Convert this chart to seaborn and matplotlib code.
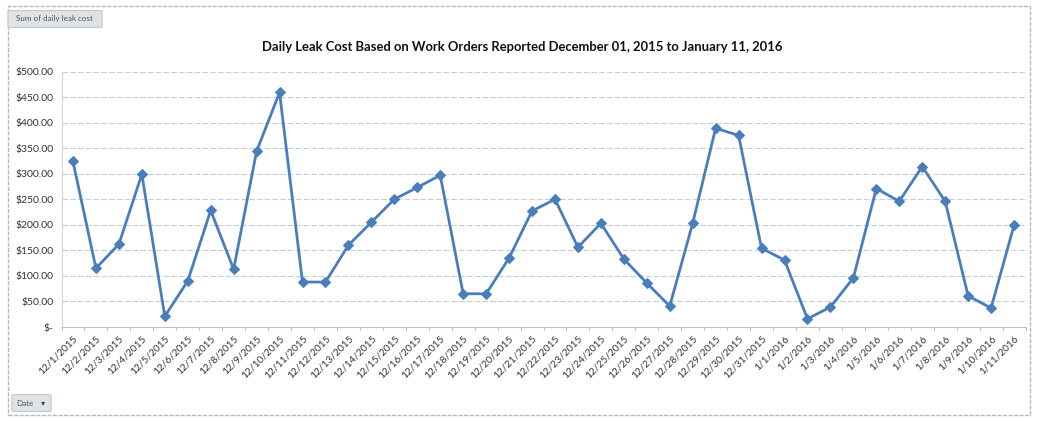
import numpy as np
import pandas as pd
import matplotlib
matplotlib.use("Agg")
import matplotlib.pyplot as plt
from matplotlib.patches import FancyBboxPatch, Rectangle
from matplotlib.ticker import FuncFormatter
import seaborn as sns

dates = [
    "12/1/2015", "12/2/2015", "12/3/2015", "12/4/2015", "12/5/2015", "12/6/2015",
    "12/7/2015", "12/8/2015", "12/9/2015", "12/10/2015", "12/11/2015", "12/12/2015",
    "12/13/2015", "12/14/2015", "12/15/2015", "12/16/2015", "12/17/2015", "12/18/2015",
    "12/19/2015", "12/20/2015", "12/21/2015", "12/22/2015", "12/23/2015", "12/24/2015",
    "12/25/2015", "12/26/2015", "12/27/2015", "12/28/2015", "12/29/2015", "12/30/2015",
    "12/31/2015", "1/1/2016", "1/2/2016", "1/3/2016", "1/4/2016", "1/5/2016",
    "1/6/2016", "1/7/2016", "1/8/2016", "1/9/2016", "1/10/2016", "1/11/2016",
]
daily_leak_cost = [
    324, 115, 162, 299, 21, 90,
    228, 113, 344, 459, 88, 88,
    160, 205, 250, 273, 297, 65,
    65, 135, 227, 250, 156, 203,
    133, 86, 41, 203, 389, 375,
    154, 131, 16, 39, 96, 271,
    246, 314, 246, 61, 37, 199,
]
y_ticks = [0, 50, 100, 150, 200, 250, 300, 350, 400, 450, 500]

df = pd.DataFrame({"pos": np.arange(len(dates)), "Date": dates, "cost": daily_leak_cost})

sns.set_theme(style="white")
plt.rcParams["font.family"] = ["Lato", "DejaVu Sans"]

W, H = 1037, 421
fig = plt.figure(figsize=(W / 100, H / 100), dpi=100)
fig.patch.set_facecolor("white")

# outer chart frame
fig.patches.append(Rectangle((8 / W, 6 / H), 1022 / W, 409 / H, transform=fig.transFigure,
                             fill=False, edgecolor="#b8b8b8", linewidth=1.0, linestyle=(0, (3, 1))))

ax = fig.add_axes([61.5 / W, 1 - 327 / H, (1025.5 - 61.5) / W, (327 - 71.5) / H])
line_color = "#4a7ebb"
sns.lineplot(data=df, x="pos", y="cost", ax=ax, color=line_color, linewidth=2.0,
             marker="D", markersize=5.5, markeredgecolor=line_color, markerfacecolor=line_color)

ax.set_xlim(-0.5, len(dates) - 0.5)
ax.set_ylim(0, 500)
ax.set_yticks(y_ticks)
ax.yaxis.set_major_formatter(FuncFormatter(lambda v, p: "$-" if v == 0 else f"${v:,.2f}"))
ax.tick_params(axis="y", labelsize=7.5, colors="#333333", length=0, pad=6)
ax.set_xticks(np.arange(len(dates)))
ax.set_xticklabels(dates, rotation=45, ha="right", rotation_mode="anchor", fontsize=7.3, color="#333333")
ax.tick_params(axis="x", length=0, pad=5)

# category boundary tick marks
for b in np.arange(-0.5, len(dates), 1.0):
    ax.plot([b, b], [0, -5], color="#c0c0c0", linewidth=0.8, clip_on=False)

ax.grid(axis="y", color="#c6ceda", linestyle=(0, (5, 2)), linewidth=0.8)
ax.set_axisbelow(True)
for s in ["top", "right"]:
    ax.spines[s].set_visible(False)
ax.spines["left"].set_color("#d0d0d0")
ax.spines["bottom"].set_color("#c0c0c0")
ax.spines["left"].set_linewidth(0.8)
ax.spines["bottom"].set_linewidth(0.8)
ax.set_xlabel("")
ax.set_ylabel("")

fig.text(522 / W, 1 - 47 / H,
         "Daily Leak Cost Based on Work Orders Reported December 01, 2015 to January 11, 2016",
         ha="center", va="center", fontsize=9.4, fontweight="bold", color="#111111")

# field buttons
fig.patches.append(FancyBboxPatch((9 / W, 1 - 27 / H), 92 / W, 16 / H, transform=fig.transFigure,
                                  boxstyle="round,pad=0.001", facecolor="#dfe3e8", edgecolor="#c4c8ce",
                                  linewidth=0.8))
fig.text(16 / W, 1 - 19 / H, "Sum of daily leak cost", ha="left", va="center", fontsize=5.8, color="#555555")
fig.patches.append(FancyBboxPatch((13 / W, 1 - 411 / H), 37 / W, 16 / H, transform=fig.transFigure,
                                  boxstyle="round,pad=0.001", facecolor="#dfe3e8", edgecolor="#c4c8ce",
                                  linewidth=0.8))
fig.text(16 / W, 1 - 403 / H, "Date", ha="left", va="center", fontsize=5.8, color="#555555")
fig.text(43 / W, 1 - 403 / H, "▾", ha="center", va="center", fontsize=6, color="#444444",
         family=["DejaVu Sans"])

fig.savefig("out.png", dpi=100, facecolor="white")
